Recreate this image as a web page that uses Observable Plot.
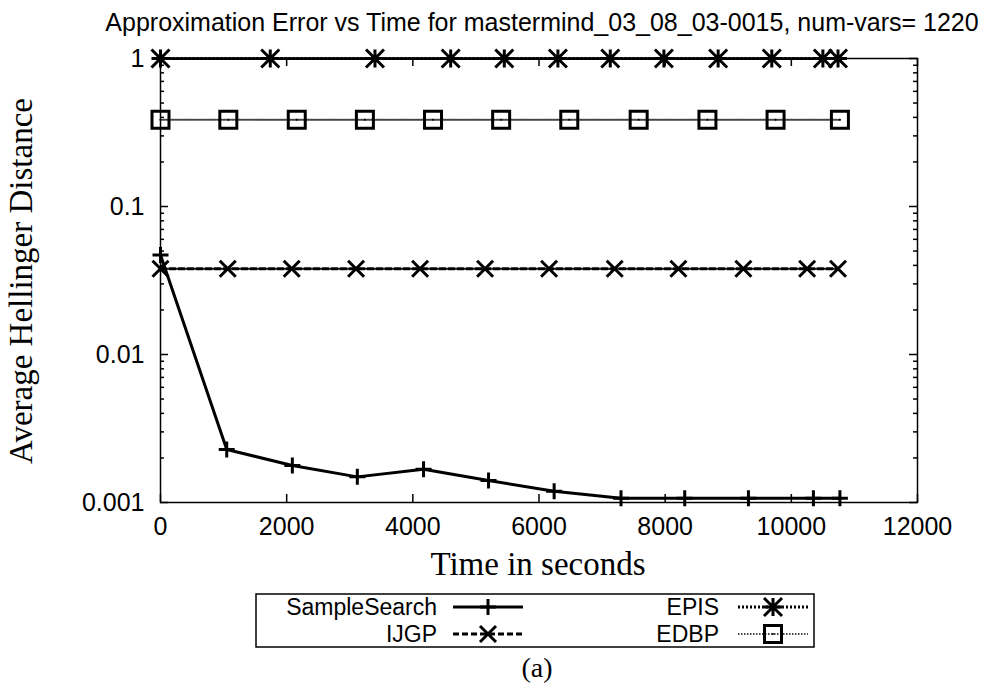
<!DOCTYPE html>
<html><head><meta charset="utf-8">
<script src="https://cdn.jsdelivr.net/npm/d3@7"></script>
<script src="https://cdn.jsdelivr.net/npm/@observablehq/plot@0.6"></script>
<style>body{margin:0;background:#fff} svg{display:block}</style>
</head><body><div id="chart"></div>
<script>
// ---- data ----
const title = "Approximation Error vs Time for mastermind_03_08_03-0015, num-vars= 1220";
const xLabel = "Time in seconds";
const yLabel = "Average Hellinger Distance";
const caption = "(a)";
const seriesNames = ["SampleSearch", "IJGP", "EPIS", "EDBP"];

const sampleSearchTime  = [0, 1050, 2090, 3120, 4170, 5200, 6240, 7300, 8310, 9320, 10350, 10770];
const sampleSearchError = [0.047, 0.00228, 0.00178, 0.00149, 0.00168, 0.00141, 0.00119, 0.00107, 0.00107, 0.00107, 0.00107, 0.00107];
const ijgpTime  = [0, 1066, 2080, 3100, 4115, 5145, 6160, 7200, 8210, 9240, 10250, 10740];
const ijgpError = [0.038, 0.038, 0.038, 0.038, 0.038, 0.038, 0.038, 0.038, 0.038, 0.038, 0.038, 0.038];
const episTime  = [0, 1740, 3400, 4600, 5450, 6300, 7130, 7980, 8840, 9690, 10500, 10740];
const episError = [1, 1, 1, 1, 1, 1, 1, 1, 1, 1, 1, 1];
const edbpTime  = [0, 1075, 2160, 3240, 4320, 5400, 6480, 7580, 8670, 9750, 10770];
const edbpError = [0.385, 0.385, 0.385, 0.385, 0.385, 0.385, 0.385, 0.385, 0.385, 0.385, 0.385];

const xTicks = [0, 2000, 4000, 6000, 8000, 10000, 12000];
const xTickLabels = ["0", "2000", "4000", "6000", "8000", "10000", "12000"];
const yTicks = [0.001, 0.01, 0.1, 1];
const yTickLabels = ["0.001", "0.01", "0.1", "1"];

// ---- build ----
const zip = (t, e) => t.map((d, i) => ({t: d, e: e[i]}));
const ss = zip(sampleSearchTime, sampleSearchError);
const ij = zip(ijgpTime, ijgpError);
const ep = zip(episTime, episError);
const ed = zip(edbpTime, edbpError);

function sym(fn) { return {draw(c, size) { fn(c, Math.sqrt(size / Math.PI)); }}; }
const plusSym  = sym((c, r) => { c.moveTo(-r, 0); c.lineTo(r, 0); c.moveTo(0, -r); c.lineTo(0, r); });
const timesSym = sym((c, r) => { c.moveTo(-r, -r); c.lineTo(r, r); c.moveTo(-r, r); c.lineTo(r, -r); });
const starSym  = sym((c, r) => { c.moveTo(-r, 0); c.lineTo(r, 0); c.moveTo(0, -r); c.lineTo(0, r);
                                 c.moveTo(-r, -r); c.lineTo(r, r); c.moveTo(-r, r); c.lineTo(r, -r); });
const squareSym = sym((c, r) => { c.rect(-r, -r, 2 * r, 2 * r); });

const styles = [
  {data: ss, dash: null,      lw: 3,   color: "black", sym: plusSym,   r: 8},
  {data: ij, dash: "6,3",     lw: 3,   color: "black", sym: timesSym,  r: 8},
  {data: ep, dash: "2,2",     lw: 3,   color: "black", sym: starSym,   r: 9},
  {data: ed, dash: "1.5,1.5", lw: 2,   color: "#444",  sym: squareSym, r: 8.5}
];

const W = 987, H = 684, mL = 160, mR = 70, mT = 58, mB = 182;
const innerW = W - mL - mR, innerH = H - mT - mB;
const minorY = [];
for (const p of [0.001, 0.01, 0.1]) for (let k = 2; k <= 9; k++) minorY.push(p * k);

const marks = [];
marks.push(Plot.frame({stroke: "black", strokeWidth: 1.5}));
// inward ticks on all four sides
marks.push(Plot.tickX(xTicks, {x: d => d, stroke: "black", strokeWidth: 1.5, insetTop: innerH - 8}));
marks.push(Plot.tickX(xTicks, {x: d => d, stroke: "black", strokeWidth: 1.5, insetBottom: innerH - 8}));
marks.push(Plot.tickY(yTicks, {y: d => d, stroke: "black", strokeWidth: 1.5, insetRight: innerW - 8}));
marks.push(Plot.tickY(yTicks, {y: d => d, stroke: "black", strokeWidth: 1.5, insetLeft: innerW - 8}));
marks.push(Plot.tickY(minorY, {y: d => d, stroke: "black", strokeWidth: 1.5, insetRight: innerW - 4}));
marks.push(Plot.tickY(minorY, {y: d => d, stroke: "black", strokeWidth: 1.5, insetLeft: innerW - 4}));
marks.push(Plot.axisX(xTicks, {tickSize: 0, tickPadding: 15, tickFormat: d => xTickLabels[xTicks.indexOf(d)], label: null}));
marks.push(Plot.axisY(yTicks, {tickSize: 0, tickPadding: 16, tickFormat: d => yTickLabels[yTicks.indexOf(d)], label: null}));

for (const s of styles) {
  marks.push(Plot.line(s.data, {x: "t", y: "e", stroke: s.color, strokeWidth: s.lw, strokeDasharray: s.dash}));
  marks.push(Plot.dot(s.data, {x: "t", y: "e", symbol: () => s.sym, r: s.r, stroke: "black", fill: "none", strokeWidth: 3}));
  if (s.sym === squareSym) marks.push(Plot.dot(s.data, {x: "t", y: "e", r: 1, fill: "black"}));
}

const svgEl = Plot.plot({
  width: W, height: H,
  marginLeft: mL, marginRight: mR, marginTop: mT, marginBottom: mB,
  style: {fontFamily: "'Liberation Sans', Arial, Helvetica, sans-serif", fontSize: "25px", color: "black", background: "white"},
  x: {domain: [0, 12000]},
  y: {type: "log", domain: [0.001, 1]},
  symbol: {type: "identity"},
  marks
});
document.getElementById("chart").appendChild(svgEl);

// ---- annotations: title, axis titles, legend, caption ----
const svg = d3.select(svgEl);
const SANS = "'Liberation Sans', Arial, Helvetica, sans-serif";
const SERIF = "'Liberation Serif', 'Times New Roman', serif";
svg.append("text").text(title).attr("x", 542).attr("y", 31).attr("text-anchor", "middle")
  .attr("font-family", SANS).attr("font-size", 25).attr("fill", "black");
svg.append("text").text(yLabel).attr("transform", "translate(32,281) rotate(-90)").attr("text-anchor", "middle")
  .attr("font-family", SERIF).attr("font-size", 33).attr("fill", "black");
svg.append("text").text(xLabel).attr("x", 538).attr("y", 575).attr("text-anchor", "middle")
  .attr("font-family", SERIF).attr("font-size", 33).attr("fill", "black");
svg.append("text").text(caption).attr("x", 537).attr("y", 677).attr("text-anchor", "middle")
  .attr("font-family", SERIF).attr("font-size", 28).attr("fill", "black");

const lg = svg.append("g");
lg.append("rect").attr("x", 256).attr("y", 594).attr("width", 558).attr("height", 53)
  .attr("fill", "none").attr("stroke", "black").attr("stroke-width", 1.5);
const cols = [{tx: 437, l1: 453, l2: 523, m: 488}, {tx: 719, l1: 738, l2: 808, m: 773}];
const rows = [607, 634];
const legendPos = [[0, 0], [0, 1], [1, 0], [1, 1]]; // [col,row] for SampleSearch, IJGP, EPIS, EDBP
styles.forEach((s, i) => {
  const c = cols[legendPos[i][0]], y = rows[legendPos[i][1]];
  lg.append("text").text(seriesNames[i]).attr("x", c.tx).attr("y", y).attr("dy", "0.36em")
    .attr("text-anchor", "end").attr("font-family", SANS).attr("font-size", 23).attr("fill", "black");
  lg.append("line").attr("x1", c.l1).attr("x2", c.l2).attr("y1", y).attr("y2", y)
    .attr("stroke", s.color).attr("stroke-width", s.lw).attr("stroke-dasharray", s.dash);
  const p = d3.path(); s.sym.draw(p, s.r * s.r * Math.PI);
  lg.append("path").attr("d", p.toString()).attr("transform", `translate(${c.m},${y})`)
    .attr("fill", "none").attr("stroke", "black").attr("stroke-width", 3);
  if (s.sym === squareSym) lg.append("circle").attr("cx", c.m).attr("cy", y).attr("r", 1).attr("fill", "black");
});
</script>
</body></html>
